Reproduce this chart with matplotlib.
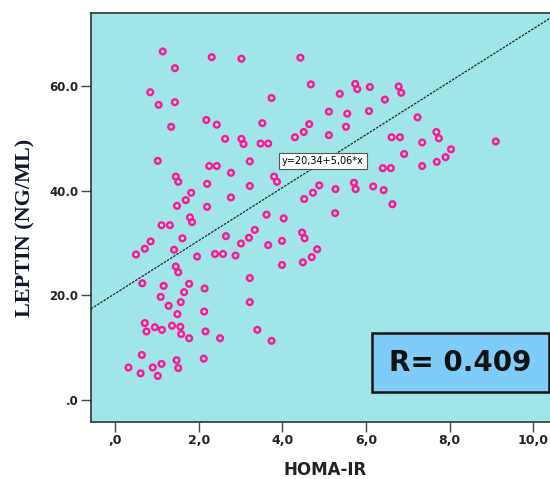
import numpy as np
import matplotlib
matplotlib.use("Agg")
import matplotlib.pyplot as plt
from matplotlib.patches import Rectangle

# HOMA-IR / leptin values
homa_ir = [1.14, 2.31, 3.02, 4.43, 1.43, 0.84, 1.04, 1.43, 1.34, 2.18,
           2.43, 2.63, 3.02, 3.07, 1.02, 2.25, 2.43, 2.77, 3.22, 1.45,
           1.51, 2.20, 1.82, 1.69, 1.48, 2.20, 2.77, 3.22, 4.68, 3.74,
           5.37, 5.74, 5.79, 6.09, 6.45, 3.52, 5.11, 5.55, 6.07, 4.64,
           4.51, 4.30, 5.11, 5.52, 3.48, 3.66, 3.80, 3.87, 4.88, 4.73,
           4.52, 5.27, 5.71, 5.75, 6.17, 6.40, 6.59, 6.42, 6.78, 6.84,
           7.23, 6.61, 6.81, 7.68, 7.74, 7.34, 6.91, 9.10, 8.03, 7.90,
           7.69, 7.34, 6.63, 1.11, 1.31, 1.79, 1.84, 1.61, 2.65, 3.01,
           3.20, 0.50, 0.71, 0.85, 1.41, 1.96, 2.39, 2.58, 2.88, 1.45,
           1.51, 0.65, 1.16, 1.77, 1.65, 2.14, 3.22, 1.09, 1.28, 1.57,
           1.49, 2.13, 3.22, 0.71, 0.75, 0.95, 1.12, 1.36, 1.56, 1.58,
           1.77, 2.16, 2.51, 0.64, 0.32, 0.61, 0.90, 1.02, 1.11, 1.47,
           1.51, 2.12, 3.62, 4.03, 5.26, 3.34, 3.66, 3.99, 4.47, 4.53,
           4.83, 4.70, 4.49, 3.99, 3.40, 3.74]
leptin = [66.6, 65.5, 65.2, 65.4, 63.4, 58.8, 56.4, 56.9, 52.2, 53.5,
          52.6, 49.9, 49.9, 48.9, 45.7, 44.7, 44.7, 43.4, 45.6, 42.7,
          41.7, 41.3, 39.6, 38.2, 37.1, 36.9, 38.7, 40.9, 60.3, 57.7,
          58.5, 60.4, 59.4, 59.8, 57.4, 52.9, 55.1, 54.7, 55.2, 52.7,
          51.2, 50.2, 50.6, 52.2, 49.0, 49.0, 42.7, 41.7, 41.0, 39.6,
          38.4, 40.3, 41.5, 40.3, 40.8, 44.3, 44.3, 40.1, 59.9, 58.7,
          54.0, 50.2, 50.2, 51.2, 50.0, 49.2, 47.0, 49.4, 47.9, 46.4,
          45.5, 44.7, 37.4, 33.4, 33.4, 34.9, 34.0, 30.9, 31.3, 29.9,
          31.0, 27.8, 28.9, 30.3, 28.7, 27.4, 27.9, 27.9, 27.6, 25.5,
          24.4, 22.3, 21.8, 22.2, 20.6, 21.3, 23.3, 19.7, 18.0, 18.7,
          16.4, 16.9, 18.7, 14.7, 13.1, 13.9, 13.4, 14.2, 14.0, 12.6,
          11.8, 13.1, 11.8, 8.6, 6.2, 5.1, 6.2, 4.6, 6.9, 7.6,
          6.1, 7.9, 35.4, 34.7, 35.7, 32.5, 29.6, 30.4, 32.0, 30.9,
          28.8, 27.3, 26.3, 25.8, 13.4, 11.3]

# fit line as printed on the chart
intercept = 20.34
slope = 5.06
fit_label = "y=20,34+5,06*x"
r_text = "R= 0.409"

x_ticks = [0, 2, 4, 6, 8, 10]
x_labels = [",0", "2,0", "4,0", "6,0", "8,0", "10,0"]
y_ticks = [0, 20, 40, 60]
y_labels = [".0", "20.0", "40.0", "60.0"]

fig = plt.figure(figsize=(5.5, 4.79), dpi=100)
ax = fig.add_axes([0.1653, 0.1196, 0.838, 0.8539])
ax.set_facecolor("#a0e6e8")

xmin, xmax = -0.578, 10.44
ax.set_xlim(xmin, xmax)
ax.set_ylim(-4.15, 74.0)

ax.scatter(homa_ir, leptin, s=17, facecolors="none", edgecolors="#ff1493",
           linewidths=1.7, zorder=3)

xs = np.array([xmin, xmax])
ax.plot(xs, intercept + slope * xs, color="#222222", lw=0.9,
        dashes=(2, 1), zorder=2)

ax.text(4.97, 45.7, fit_label, fontsize=7, ha="center", va="center",
        zorder=4,
        bbox=dict(boxstyle="square,pad=0.3", fc="white", ec="#555555", lw=0.8))

ax.set_xticks(x_ticks)
ax.set_xticklabels(x_labels, fontsize=9, fontweight="bold", color="#222222")
ax.set_yticks(y_ticks)
ax.set_yticklabels(y_labels, fontsize=8.5, fontweight="bold", color="#222222")
ax.tick_params(direction="out", length=7, width=1, color="#444444", pad=2)

for s in ax.spines.values():
    s.set_color("#333333")
    s.set_linewidth(1.2)

fig.text(25 / 550, 1 - 228 / 479, "LEPTIN (NG/ML)", rotation=90,
         ha="center", va="center", fontsize=16, fontweight="bold",
         family="Liberation Serif", color="#101830")
fig.text(325 / 550, 1 - 470 / 479, "HOMA-IR", ha="center", va="center",
         fontsize=12, fontweight="bold", color="#222222")

# R box in the lower right
fig.patches.append(Rectangle((0.676, 0.1823), 0.322, 0.1231,
                             transform=fig.transFigure, fc="#80ccf8",
                             ec="#111111", lw=1.8, zorder=5))
fig.text(0.837, 1 - 362.7 / 479, r_text, ha="center", va="center",
         fontsize=20, fontweight="bold", color="#111111", zorder=6)

fig.savefig("out.png", dpi=100)
